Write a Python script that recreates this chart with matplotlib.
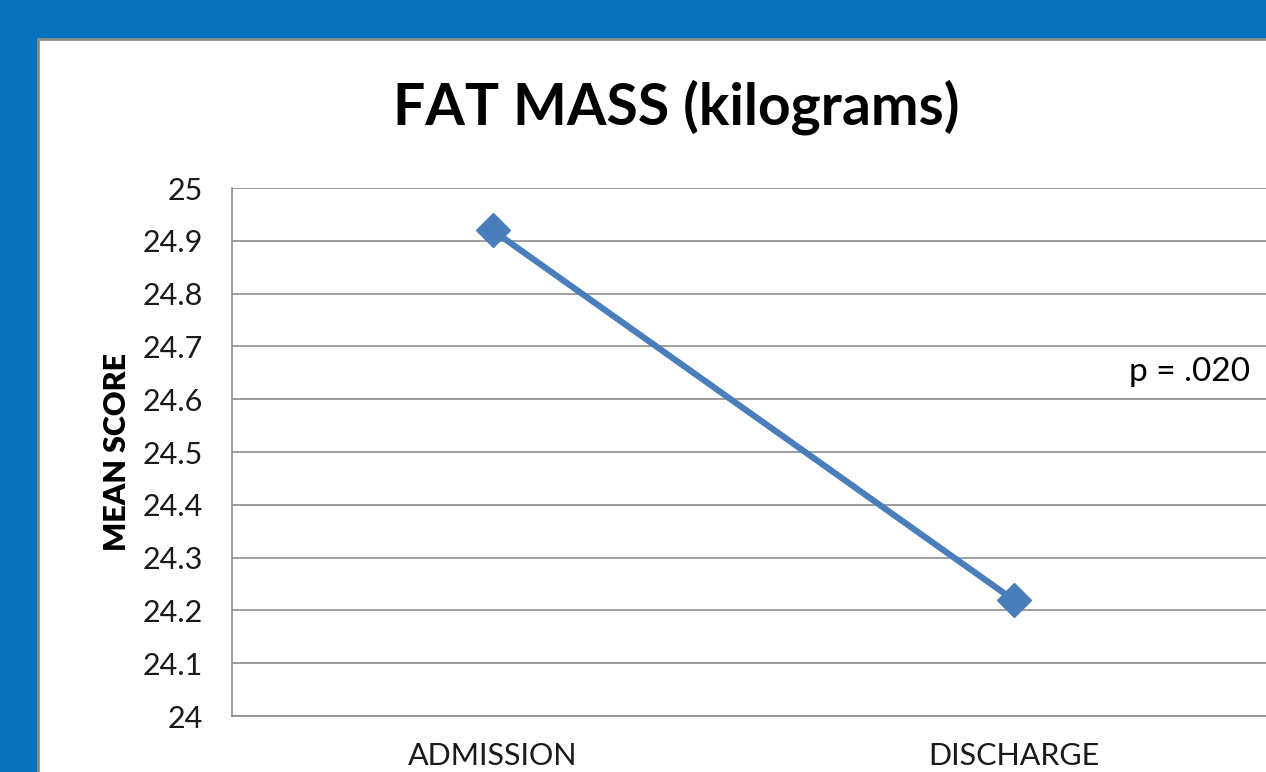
import matplotlib.pyplot as plt
from matplotlib.patches import Rectangle

# chart data
categories = ['ADMISSION', 'DISCHARGE']
mean_scores = [24.92, 24.22]
y_ticks = [24.0, 24.1, 24.2, 24.3, 24.4, 24.5, 24.6, 24.7, 24.8, 24.9, 25.0]
y_tick_labels = ['24', '24.1', '24.2', '24.3', '24.4', '24.5', '24.6', '24.7', '24.8', '24.9', '25']

W, H = 1266, 772
plt.rcParams['font.family'] = ['Lato', 'DejaVu Sans']

fig = plt.figure(figsize=(W / 100, H / 100), dpi=100)
fig.patch.set_facecolor('#0872BE')

# white chart panel, cut off at the right and bottom
fig.patches.append(Rectangle((38 / W, -0.1), 1.2, (H - 39) / H + 0.1,
                             transform=fig.transFigure, facecolor='white',
                             edgecolor='#8C8C8C', linewidth=2, zorder=-10))

ax = fig.add_axes([232 / W, (H - 716) / H, 1042 / W, 528 / H])
ax.set_facecolor('none')
ax.set_zorder(1)

x = [i + 0.5 for i in range(len(categories))]
ax.plot(x, mean_scores, color='#4A7EBB', linewidth=4.5, marker='D',
        markersize=17, markerfacecolor='#4A7EBB', markeredgecolor='#4A7EBB',
        zorder=3, clip_on=False)

ax.set_xlim(0, 2)
ax.set_ylim(24, 25)
ax.set_xticks(x)
ax.set_xticklabels(categories, fontsize=22, color='#1A1A1A')
ax.set_yticks(y_ticks)
ax.set_yticklabels(y_tick_labels, fontsize=22, color='#1A1A1A')
ax.tick_params(axis='both', length=0)
ax.tick_params(axis='y', pad=21)
ax.tick_params(axis='x', pad=19)

ax.grid(axis='y', color='#8C8C8C', linewidth=1.2)
ax.set_axisbelow(True)
for side in ['top', 'right']:
    ax.spines[side].set_visible(False)
ax.spines['left'].set_color('#8C8C8C')
ax.spines['bottom'].set_color('#8C8C8C')
ax.spines['left'].set_linewidth(1.2)
ax.spines['bottom'].set_linewidth(1.2)

ax.set_ylabel('MEAN SCORE', fontsize=22, fontweight='heavy', labelpad=8)

fig.text(676 / W, 1 - 107 / H, 'FAT MASS (kilograms)', fontsize=41,
         fontweight='bold', ha='center', va='center', color='black')
fig.text(1250 / W, 1 - 372 / H, 'p = .020', fontsize=24, ha='right',
         va='center', color='black')

fig.savefig('out.png', dpi=100)
